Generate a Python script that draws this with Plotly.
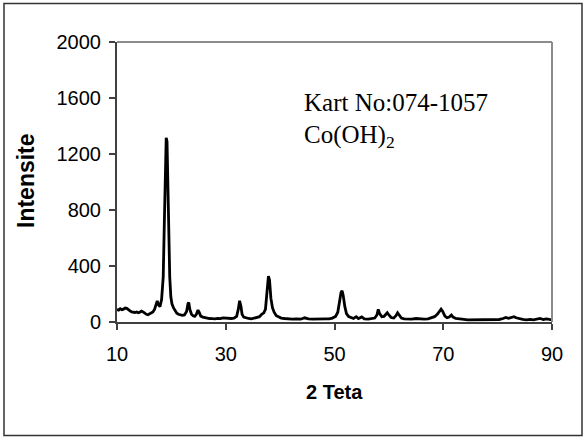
import plotly.graph_objects as go

two_theta = [10.0, 10.3, 10.6, 10.9, 11.2, 11.5, 11.8, 12.1, 12.4, 12.7, 13.0, 13.3, 13.6, 13.9, 14.2, 14.5,
             14.8, 15.1, 15.4, 15.7, 16.0, 16.3, 16.6, 16.9, 17.2, 17.4, 17.6, 17.9, 18.2, 18.5, 18.7, 18.9,
             19.05, 19.2, 19.35, 19.5, 19.7, 19.9, 20.1, 20.4, 20.7, 21.0, 21.3, 21.6, 22.0, 22.4, 22.8, 23.05,
             23.2, 23.4, 23.7, 24.0, 24.3, 24.6, 24.9, 25.1, 25.4, 25.8, 26.2, 26.6, 27.0, 27.5, 28.0, 28.5,
             29.0, 29.5, 30.0, 30.5, 31.0, 31.5, 32.0, 32.3, 32.55, 32.8, 33.0, 33.3, 33.7, 34.2, 34.7, 35.2,
             35.7, 36.2, 36.6, 37.0, 37.3, 37.6, 37.85, 38.05, 38.3, 38.6, 38.9, 39.3, 39.7, 40.2, 40.8, 41.5,
             42.2, 43.0, 43.8, 44.5, 45.2, 46.0, 46.8, 47.5, 48.3, 49.0, 49.6, 50.2, 50.6, 50.9, 51.2, 51.4,
             51.6, 51.9, 52.2, 52.6, 53.0, 53.5, 54.0, 54.4, 55.0, 55.5, 56.2, 56.8, 57.4, 57.8, 58.05, 58.3,
             58.7, 59.1, 59.4, 59.7, 60.0, 60.4, 60.9, 61.3, 61.6, 61.9, 62.3, 62.8, 63.5, 64.2, 65.0, 65.8,
             66.5, 67.2, 67.8, 68.4, 68.9, 69.3, 69.6, 69.9, 70.3, 70.7, 71.1, 71.5, 71.8, 72.3, 73.0, 73.8,
             74.5, 75.2, 76.0, 76.8, 77.5, 78.2, 79.0, 79.6, 80.3, 81.0, 81.5, 82.0, 82.5, 83.0, 83.4, 84.0,
             84.6, 85.3, 86.0, 86.6, 87.2, 87.8, 88.4, 89.0, 89.5, 90.0]

intensity = [90, 85, 95, 88, 92, 100, 98, 85, 80, 72, 70, 68, 72, 66, 70, 78,
             72, 62, 55, 52, 58, 62, 72, 90, 130, 150, 125, 110, 160, 320, 700, 1150,
             1315, 1290, 1000, 600, 320, 180, 130, 100, 75, 62, 55, 50, 48, 50, 75, 130,
             140, 90, 55, 45, 40, 55, 85, 70, 42, 35, 30, 28, 25, 24, 22, 26,
             24, 30, 28, 26, 25, 28, 40, 90, 152, 110, 55, 35, 28, 25, 22, 28,
             30, 38, 55, 65, 90, 200, 327, 300, 170, 100, 70, 45, 35, 28, 25, 22,
             20, 22, 20, 30, 22, 20, 22, 20, 22, 22, 28, 40, 70, 140, 210, 223,
             190, 110, 60, 38, 30, 25, 38, 24, 36, 22, 20, 24, 28, 50, 90, 60,
             38, 40, 55, 66, 50, 32, 28, 45, 66, 45, 28, 22, 20, 20, 25, 20,
             20, 22, 28, 38, 55, 80, 92, 75, 42, 30, 35, 50, 35, 25, 20, 18,
             15, 16, 15, 14, 16, 15, 18, 20, 18, 25, 32, 26, 30, 38, 30, 22,
             18, 15, 18, 15, 22, 25, 18, 22, 18, 15]

x_ticks = [10, 30, 50, 70, 90]
y_ticks = [0, 400, 800, 1200, 1600, 2000]

W, H = 584, 437
L, R, T, B = 117, 32, 42, 115
PW, PH = W - L - R, H - T - B

def px(xp):
    return (xp - L) / PW

def py(yp):
    return (H - B - yp) / PH

fig = go.Figure()
fig.add_trace(go.Scatter(x=two_theta, y=intensity, mode="lines",
                         line=dict(color="black", width=2.8), showlegend=False))

tick_font = dict(family="Liberation Sans, Arial, sans-serif", size=20, color="black")
fig.update_layout(
    width=W, height=H,
    margin=dict(l=L, r=R, t=T, b=B),
    paper_bgcolor="white", plot_bgcolor="white",
    font=tick_font,
    xaxis=dict(range=[10, 90], tickvals=x_ticks, ticks="outside", ticklen=6, tickwidth=1.5,
               tickcolor="#404040", showline=True, linecolor="#404040", linewidth=2,
               showgrid=False, zeroline=False, tickfont=tick_font, ticklabelstandoff=7),
    yaxis=dict(range=[0, 2000], tickvals=y_ticks, ticks="outside", ticklen=6, tickwidth=1.5,
               tickcolor="#404040", showline=True, linecolor="#404040", linewidth=2,
               showgrid=False, zeroline=False, tickfont=tick_font, ticklabelstandoff=4),
)

# axis titles
fig.add_annotation(xref="paper", yref="paper", x=px(334.5), y=py(392), xanchor="center", yanchor="middle",
                   text="<b>2 Teta</b>", showarrow=False,
                   font=dict(family="Liberation Sans, Arial, sans-serif", size=20, color="black"))
fig.add_annotation(xref="paper", yref="paper", x=px(26), y=py(181), xanchor="center", yanchor="middle",
                   text="<b>Intensite</b>", textangle=-90, showarrow=False,
                   font=dict(family="Liberation Sans, Arial, sans-serif", size=23, color="black"))

# top and right frame lines (gray)
fig.add_shape(type="line", xref="paper", yref="paper", x0=0, x1=1, y0=1, y1=1,
              line=dict(color="#8c8c8c", width=2))
fig.add_shape(type="line", xref="paper", yref="paper", x0=1, x1=1, y0=0, y1=1,
              line=dict(color="#8c8c8c", width=2))
# outer figure border
fig.add_shape(type="rect", xref="paper", yref="paper", x0=px(4), x1=px(582), y0=py(435.5), y1=py(3.5),
              line=dict(color="#333333", width=1.5))

serif = dict(family="Liberation Serif, Times New Roman, serif", size=25, color="black")
fig.add_annotation(xref="paper", yref="paper", x=px(302), y=py(102),
                   xanchor="left", yanchor="middle", text="Kart No:074-1057",
                   showarrow=False, font=serif)
fig.add_annotation(xref="paper", yref="paper", x=px(302), y=py(136),
                   xanchor="left", yanchor="middle", text="Co(OH)<sub>2</sub>",
                   showarrow=False, font=serif)

fig.write_html("out.html", config={"displayModeBar": False},
               post_script="document.body.style.margin='0';document.body.style.overflow='hidden';")
